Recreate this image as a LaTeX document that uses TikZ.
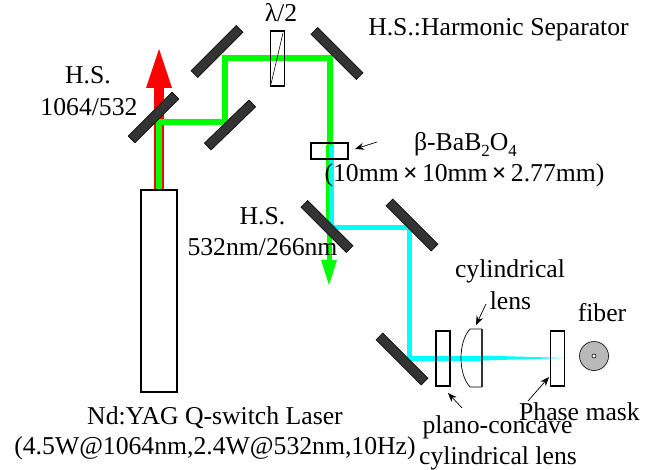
\documentclass[tikz,border=0pt]{standalone}
\usepackage{fontspec}
\setmainfont{Liberation Serif}
\usetikzlibrary{arrows.meta}
\definecolor{mirrorgray}{HTML}{333333}
\definecolor{beamcyan}{HTML}{00FFFF}
\definecolor{beamgreen}{HTML}{00FF00}
\definecolor{beamred}{HTML}{FF0000}
\newcommand{\subdigit}[1]{\raisebox{-6pt}{\fontsize{17}{20}\selectfont #1}}
\tikzset{
  mirror/.style={draw=black,fill=mirrorgray,line width=0.6pt,minimum height=9.6pt,inner sep=0pt,outer sep=0pt,rotate=#1},
  optic/.style={draw=black,fill=none,line width=1.5pt,inner sep=0pt,outer sep=0pt},
  lbl/.style={inner sep=0pt,outer sep=0pt,anchor=base,font=\fontsize{25.7}{28}\selectfont},
  callout/.style={draw=black,line width=0.7pt,-{Stealth[length=9pt,width=7pt]}},
  greenbeam/.style={draw=beamgreen,line width=6pt,line join=miter},
  cyanbeam/.style={draw=beamcyan,line width=5pt,line join=miter},
}
\begin{document}
\begin{tikzpicture}[x=1pt,y=-1pt]
\useasboundingbox (0,0) rectangle (653,470);
% beam waypoints
\coordinate (laserout) at (159,190);
\coordinate (hsa) at (159,122);
\coordinate (ma) at (225,122);
\coordinate (mb) at (225,58);
\coordinate (mc) at (330,58);
\coordinate (bbo) at (330,145);
\coordinate (greenend) at (329,262);
\coordinate (md) at (409,228);
\coordinate (me) at (409,358);
\coordinate (lensc) at (482,358);
\coordinate (mask) at (566,358);
% red
\draw[draw=beamred,line width=10.5pt] (laserout) -- (159,86);
\fill[beamred] (159,49) -- (172,88) -- (146,88) -- cycle;
% beams
\draw[greenbeam] (laserout) -- (hsa) -- (ma) -- (mb) -- (mc) -- (bbo);
\draw[draw=beamgreen,line width=3pt] (327.5,145) -- (327.5,225);
\draw[cyanbeam] (331,145) -- (331,228) -- (md) -- (me) -- (lensc);
\fill[beamcyan] (482,355.5) -- (mask) -- (482,360.5) -- cycle;
\draw[draw=beamgreen,line width=5pt] (329,228) -- (greenend);
\fill[beamgreen] (329,285) -- (321,260) -- (337,260) -- cycle;
% mirrors
\node[mirror=45,minimum width=64pt] (m1) at (217,51.5) {};
\node[mirror=-45,minimum width=64pt] (m2) at (337,53.5) {};
\node[mirror=44,minimum width=62pt] (m3) at (230,125) {};
\node[mirror=45,minimum width=62pt] (hs1) at (153.5,117.5) {};
\node[mirror=-45,minimum width=64pt] (hs2) at (327,226.5) {};
\node[mirror=-45,minimum width=64pt] (m5) at (412,225) {};
\node[mirror=-45,minimum width=64pt] (m6) at (402,359) {};
% components
\node[optic,minimum width=14pt,minimum height=55pt] (wp) at (277.5,58.5) {};
\draw[black,line width=0.6pt] (283,33) -- (271,84);
\node[optic,minimum width=37pt,minimum height=16pt] (crystal) at (329.5,151) {};
\node[optic,minimum width=36pt,minimum height=202pt] (laser) at (159,291) {};
\node[optic,minimum width=14pt,minimum height=55pt] (plano) at (443,358.5) {};
\node[optic,minimum width=14pt,minimum height=55pt] (pm) at (557.5,358.5) {};
\draw[black,line width=0.7pt] (482,329) -- (470,329) .. controls (458,342) and (458,374) .. (470,387) -- (482,387);
\draw[mirrorgray,line width=1.1pt] (482,329) -- (482,387);
\node[circle,draw=black,fill=gray!55,line width=0.6pt,minimum size=29pt,inner sep=0pt] (fiber) at (594,356) {};
\node[circle,draw=black,fill=white,line width=0.6pt,minimum size=4pt,inner sep=0pt] (core) at (594,356) {};
% callouts
\coordinate (ca) at (377,142);\coordinate (cb) at (355,149);
\draw[callout] (ca) -- (cb);
\coordinate (cc) at (486,304);\coordinate (cd) at (476,325);
\draw[callout] (cc) -- (cd);
\coordinate (ce) at (528,401);\coordinate (cf) at (549,377);
\draw[callout] (ce) -- (cf);
\coordinate (cg) at (462,408);\coordinate (ch) at (448,393);
\draw[callout] (cg) -- (ch);
% text
\node[lbl] (t1) at (281,22) {λ/2};
\node[lbl] (t2) at (498.5,36) {H.S.:Harmonic Separator};
\node[lbl] (t3) at (88,84) {H.S.};
\node[lbl] (t4) at (89,116) {1064/532};
\node[lbl] (t5) at (465.5,151) {β-BaB\subdigit{2}O\subdigit{4}};
\node[lbl] (t6) at (464.5,182) {(10mm\,\textbf{×}\,10mm\,\textbf{×}\,2.77mm)};
\node[lbl] (t7) at (262.5,225) {H.S.};
\node[lbl] (t8) at (262.5,256) {532nm/266nm};
\node[lbl] (t9) at (510,278) {cylindrical};
\node[lbl] (t10) at (510.5,309) {lens};
\node[lbl] (t11) at (602,321) {fiber};
\node[lbl] (t12) at (579.5,420) {Phase mask};
\node[lbl] (t13) at (497.5,433) {plano-concave};
\node[lbl] (t14) at (498,464) {cylindrical lens};
\node[lbl] (t15) at (215,424) {Nd:YAG Q-switch Laser};
\node[lbl] (t16) at (215,454) {(4.5W@1064nm,2.4W@532nm,10Hz)};
\end{tikzpicture}
\end{document}
